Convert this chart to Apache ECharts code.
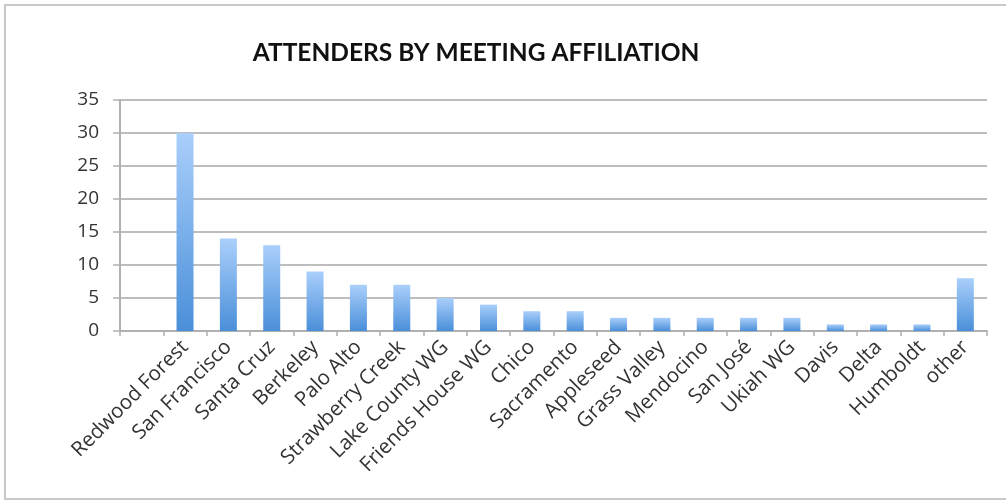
<!DOCTYPE html>
<html>
<head>
<meta charset="utf-8">
<script src="https://cdn.jsdelivr.net/npm/echarts@6/dist/echarts.min.js"></script>
<style>
html,body{margin:0;padding:0;background:#fff;overflow:hidden;}
#frame{position:absolute;left:4px;top:4px;width:1020px;height:496px;border:2px solid #c8c8c8;box-sizing:border-box;}
#chart{position:absolute;left:0;top:0;width:1006px;height:504px;}
</style>
</head>
<body>
<div id="frame"></div>
<div id="chart"></div>
<script>
const titleText = 'ATTENDERS BY MEETING AFFILIATION';
const categories = ['', 'Redwood Forest', 'San Francisco', 'Santa Cruz', 'Berkeley', 'Palo Alto', 'Strawberry Creek', 'Lake County WG', 'Friends House WG', 'Chico', 'Sacramento', 'Appleseed', 'Grass Valley', 'Mendocino', 'San José', 'Ukiah WG', 'Davis', 'Delta', 'Humboldt', 'other'];
const attenders = [null, 30, 14, 13, 9, 7, 7, 5, 4, 3, 3, 2, 2, 2, 2, 2, 1, 1, 1, 8];
const yTicks = {min: 0, max: 35, interval: 5};

const chart = echarts.init(document.getElementById('chart'), null, {renderer: 'canvas'});
const titleFont = 'Lato, "Open Sans", sans-serif';
const font = '"Open Sans", Lato, sans-serif';
chart.setOption({
  animation: false,
  backgroundColor: 'transparent',
  title: {
    text: titleText,
    left: 471,
    top: 36,
    textAlign: 'center',
    textStyle: {fontFamily: titleFont, fontWeight: 'bold', fontSize: 24.5, color: '#111'}
  },
  grid: {left: 120, right: 19, top: 100, bottom: 173, containLabel: false},
  xAxis: {
    type: 'category',
    data: categories,
    boundaryGap: true,
    axisLine: {lineStyle: {color: '#b0b0b0', width: 2}},
    axisTick: {show: true, length: 5, lineStyle: {color: '#b0b0b0', width: 1.5}, alignWithLabel: false},
    axisLabel: {rotate: 45, interval: 0, margin: 13, fontFamily: font, fontSize: 20.5, color: '#333'}
  },
  yAxis: {
    type: 'value',
    min: yTicks.min, max: yTicks.max, interval: yTicks.interval,
    axisLine: {show: true, lineStyle: {color: '#b0b0b0', width: 2}},
    axisTick: {show: true, length: 7, lineStyle: {color: '#b0b0b0', width: 1.5}},
    axisLabel: {margin: 21, fontFamily: font, fontSize: 19, color: '#333'},
    splitLine: {show: true, lineStyle: {color: '#bdbdbd', width: 2}}
  },
  series: [{
    type: 'bar',
    data: attenders,
    barWidth: 17,
    itemStyle: {
      color: new echarts.graphic.LinearGradient(0, 0, 0, 1, [
        {offset: 0, color: '#aacffb'},
        {offset: 1, color: '#4a8fd9'}
      ])
    }
  }]
});
</script>
</body>
</html>
